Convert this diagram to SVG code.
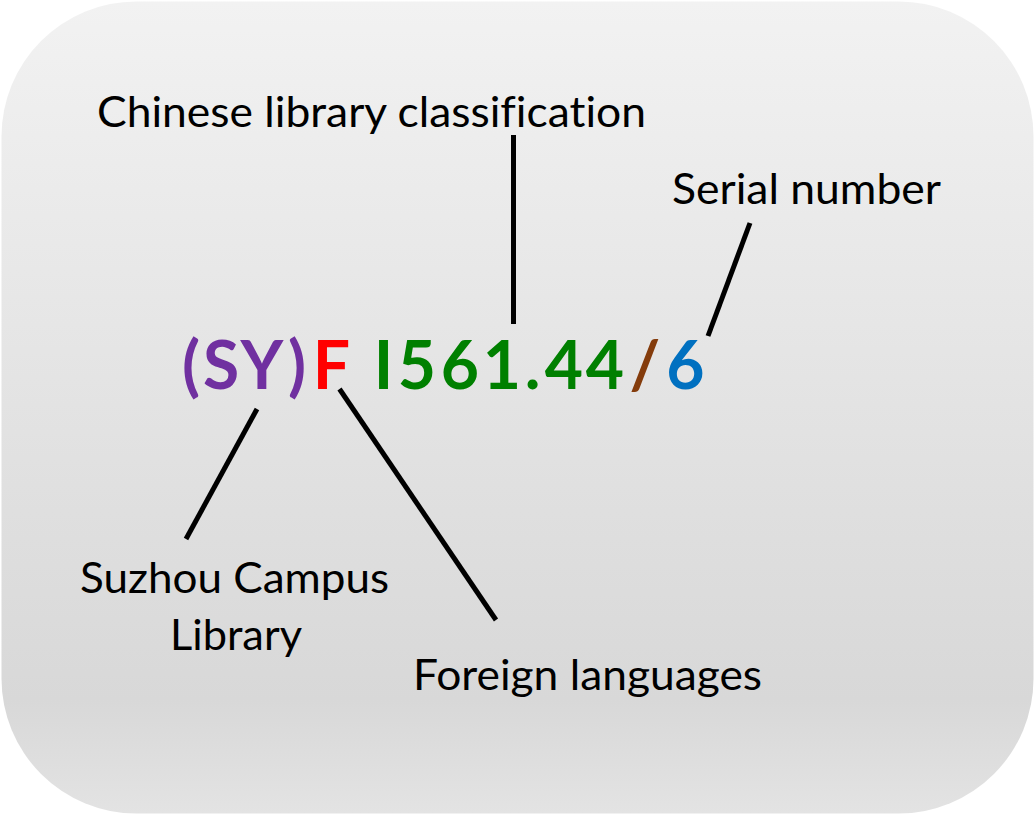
<svg xmlns="http://www.w3.org/2000/svg" width="1035" height="815" viewBox="0 0 1035 815">
  <defs>
    <linearGradient id="bg" x1="0" y1="0" x2="0" y2="1">
      <stop offset="0" stop-color="#f2f2f2"/>
      <stop offset="0.86" stop-color="#d8d8d8"/>
      <stop offset="1" stop-color="#e3e3e3"/>
    </linearGradient>
    <style>
      .lbl { font-family: Lato, "Open Sans", "Liberation Sans", sans-serif; font-size: 43px; fill: #000; font-variant-ligatures: none; }
      .code { font-family: Lato, "Open Sans", "Liberation Sans", sans-serif; font-size: 66px; font-weight: bold; text-anchor: middle; }
      .conn line { stroke: #000; stroke-width: 5; stroke-linecap: butt; }
    </style>
  </defs>
  <rect x="1.5" y="1.5" width="1032" height="812" rx="135" ry="135" fill="url(#bg)"/>

  <g id="code">
    <text class="code" y="388.5"><tspan fill="#7030A0" x="191 221 262 297">(SY)</tspan><tspan fill="#FF0000" x="331.5">F</tspan><tspan fill="#008000" x="383.5 417 460 502 532.5 564 605">I561.44</tspan><tspan fill="#843C0C" x="645">/</tspan><tspan fill="#0070C0" x="685.5">6</tspan></text>
  </g>

  <g id="label-classification">
    <text class="lbl" x="97" y="127" textLength="549" lengthAdjust="spacingAndGlyphs">Chinese library classification</text>
  </g>
  <g id="label-serial">
    <text class="lbl" x="672" y="204" textLength="269" lengthAdjust="spacingAndGlyphs">Serial number</text>
  </g>
  <g id="label-campus">
    <text class="lbl" x="80" y="593" textLength="309" lengthAdjust="spacingAndGlyphs">Suzhou Campus</text>
    <text class="lbl" x="170" y="650" textLength="132" lengthAdjust="spacingAndGlyphs">Library</text>
  </g>
  <g id="label-foreign">
    <text class="lbl" x="413" y="690" textLength="349" lengthAdjust="spacingAndGlyphs">Foreign languages</text>
  </g>

  <g id="connectors" class="conn">
    <line x1="513.5" y1="135" x2="513.5" y2="324"/>
    <line x1="750" y1="223" x2="708" y2="336"/>
    <line x1="257" y1="409" x2="186" y2="539"/>
    <line x1="339.5" y1="389" x2="496" y2="620"/>
  </g>
</svg>
